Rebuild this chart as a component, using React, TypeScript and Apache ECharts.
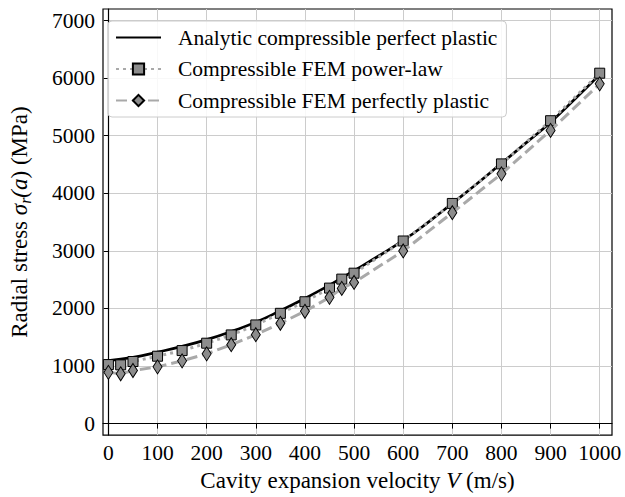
import React, { useEffect, useRef } from "react";
import * as echarts from "echarts";

const xFem = [0, 25, 50, 100, 150, 200, 250, 300, 350, 400, 450, 475, 500, 600, 700, 800, 900, 1000];
const powerLaw = [1025, 1020, 1078, 1170, 1268, 1396, 1540, 1713, 1915, 2116, 2353, 2509, 2612, 3171, 3823, 4510, 5260, 6085];
const perfectPlastic = [890, 865, 922, 985, 1090, 1211, 1370, 1543, 1742, 1950, 2192, 2348, 2451, 2998, 3662, 4337, 5092, 5900];
const xAnalytic = [0, 50, 100, 150, 200, 250, 300, 350, 400, 450, 500, 550, 600, 650, 700, 750, 800, 850, 900, 950, 1000];
const analytic = [1095, 1150, 1240, 1340, 1458, 1600, 1760, 1960, 2175, 2405, 2655, 2910, 3180, 3490, 3825, 4165, 4520, 4875, 5235, 5640, 6060];
const xTicks = [0, 100, 200, 300, 400, 500, 600, 700, 800, 900, 1000];
const yTicks = [0, 1000, 2000, 3000, 4000, 5000, 6000, 7000];

const FONT = "Liberation Serif";

export default function App() {
  const ref = useRef<HTMLDivElement>(null);
  useEffect(() => {
    if (!ref.current) return;
    const chart = echarts.init(ref.current, null, { renderer: "svg" });
    const pair = (xs: number[], ys: number[]) => xs.map((x, i) => [x, ys[i]]);
    chart.setOption({
      animation: false,
      backgroundColor: "#fff",
      textStyle: { fontFamily: FONT },
      grid: {
        left: 103,
        top: 9,
        right: 13,
        bottom: 60,
        show: true,
        borderColor: "#000",
        borderWidth: 1.2,
        backgroundColor: "transparent",
      },
      legend: {
        orient: "vertical",
        left: 108,
        top: 21,
        padding: [5.5, 9, 5.5, 7],
        itemGap: 9.5,
        itemWidth: 45,
        itemHeight: 14,
        backgroundColor: "rgba(255,255,255,0.85)",
        borderColor: "#cccccc",
        borderWidth: 1,
        borderRadius: 4,
        textStyle: { fontFamily: FONT, fontSize: 21.5, color: "#000", padding: [0, 0, 0, 12] },
        data: [
          { name: "Analytic compressible perfect plastic", itemStyle: { opacity: 0 } },
          "Compressible FEM power-law",
          "Compressible FEM perfectly plastic",
        ],
      },
      xAxis: {
        type: "value",
        min: -11,
        max: 1025,
        name: "{n|Cavity expansion velocity }{i|V}{n| (m/s)}",
        nameLocation: "middle",
        nameGap: 32,
        nameTextStyle: {
          fontFamily: FONT,
          rich: {
            n: { fontFamily: FONT, fontSize: 23, color: "#000" },
            i: { fontFamily: FONT, fontSize: 23, color: "#000", fontStyle: "italic" },
          },
        },
        axisLine: { show: true, lineStyle: { color: "#000", width: 1.2 } },
        axisTick: { show: true, length: 5, inside: false, customValues: xTicks, lineStyle: { color: "#000" } },
        axisLabel: {
          customValues: xTicks,
          formatter: (v: number) => String(v),
          fontFamily: FONT,
          fontSize: 21.5,
          color: "#000",
          margin: 7,
        },
        splitLine: { show: true, lineStyle: { color: "#cccccc", width: 1 } },
      },
      yAxis: {
        type: "value",
        min: -200,
        max: 7200,
        name: "{n|Radial stress }{i|σ}{s|r}{i|(a}{n|) (MPa)}",
        nameLocation: "middle",
        nameGap: 70,
        nameRotate: 90,
        nameTextStyle: {
          fontFamily: FONT,
          rich: {
            n: { fontFamily: FONT, fontSize: 23, color: "#000", lineHeight: 27, verticalAlign: "middle" },
            i: { fontFamily: FONT, fontSize: 23, color: "#000", fontStyle: "italic", lineHeight: 27, verticalAlign: "middle" },
            s: { fontFamily: FONT, fontSize: 16, color: "#000", fontStyle: "italic", lineHeight: 14, verticalAlign: "bottom" },
          },
        },
        axisLine: { show: true, lineStyle: { color: "#000", width: 1.2 } },
        axisTick: { show: true, length: 5, inside: false, customValues: yTicks, lineStyle: { color: "#000" } },
        axisLabel: {
          customValues: yTicks,
          formatter: (v: number) => String(v),
          fontFamily: FONT,
          fontSize: 21.5,
          color: "#000",
          margin: 8,
        },
        splitLine: { show: true, lineStyle: { color: "#cccccc", width: 1 } },
      },
      series: [
        {
          name: "Analytic compressible perfect plastic",
          type: "line",
          data: pair(xAnalytic, analytic),
          smooth: true,
          symbol: "none",
          lineStyle: { color: "#000", width: 2.7 },
          itemStyle: { color: "#000" },
          z: 2,
        },
        {
          name: "Compressible FEM power-law",
          type: "line",
          data: pair(xFem, powerLaw),
          symbol: "rect",
          symbolSize: 10,
          lineStyle: { color: "#a9a9a9", width: 3, type: [3, 4] },
          itemStyle: { color: "#8c8c8c", borderColor: "#000", borderWidth: 1 },
          z: 3,
        },
        {
          name: "Compressible FEM perfectly plastic",
          type: "line",
          data: pair(xFem, perfectPlastic),
          symbol: "diamond",
          symbolSize: [9, 14],
          lineStyle: { color: "#a9a9a9", width: 3, type: [11, 5] },
          itemStyle: { color: "#8c8c8c", borderColor: "#000", borderWidth: 1 },
          z: 4,
        },
      ],
    });
    return () => chart.dispose();
  }, []);
  return <div ref={ref} style={{ width: 625, height: 497, position: "absolute", left: 0, top: 0 }} />;
}
